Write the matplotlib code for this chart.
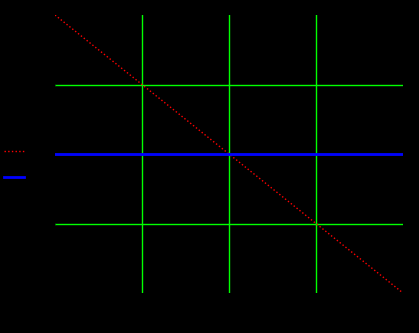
import numpy as np
import matplotlib.pyplot as plt

x = [-2, 2]
y = [2, -2]
ticks = [-1, 0, 1]

fig = plt.figure(figsize=(4.19, 3.33), dpi=100, facecolor="black")
ax = fig.add_axes([55/419, 40/333, 348/419, 278/333], facecolor="black")
ax.plot(x, y, ":", color="red", lw=1, label="-x")
ax.axhline(0, color="blue", lw=2, label="0", zorder=3)
ax.set_xlim(-2, 2)
ax.set_ylim(-2, 2)
ax.set_xticks(ticks)
ax.set_yticks(ticks)
ax.grid(True, color="#00ff00", lw=1.0)
ax.tick_params(colors="black", labelcolor="black", labelsize=7, pad=1)
for s in ax.spines.values():
    s.set_visible(False)
leg = fig.legend(loc="center left", bbox_to_anchor=(-0.015, 0.505), frameon=False,
                 labelcolor="black", handlelength=1.8, fontsize=8, labelspacing=1.4,
                 handletextpad=0.3)
fig.savefig("out.png", facecolor="black")
